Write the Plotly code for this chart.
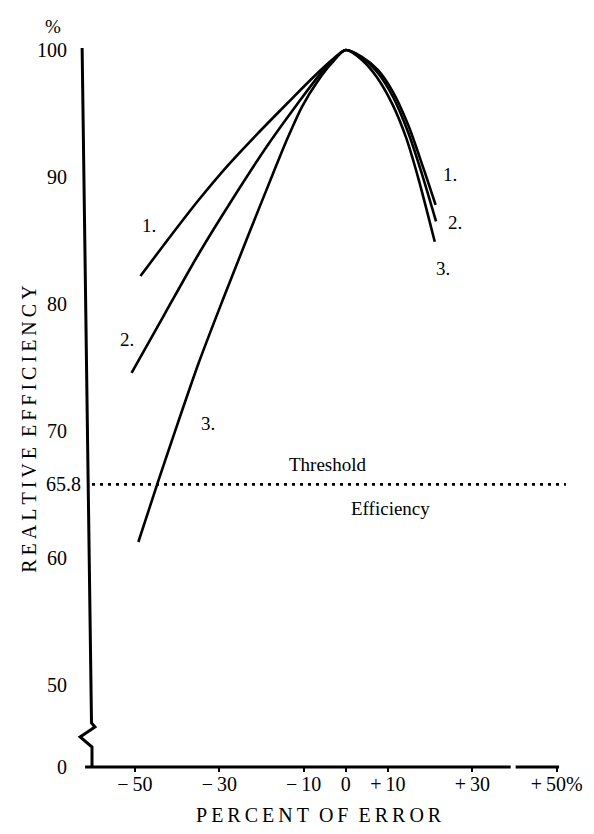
import plotly.graph_objects as go

# ---------------- data ----------------
CURVE1_X = [-48.7, -41.9, -34.9, -27.9, -20.8, -13.8, -7.9, -3.3, 0, 3.9, 7.6, 11.2, 14.8, 18.4, 21.3]
CURVE1_Y = [82.2, 85.2, 88.19, 90.94, 93.46, 95.83, 97.8, 99.21, 100, 99.45, 98.43, 96.69, 94.09, 90.7, 87.8]

CURVE2_X = [-50.8, -43.1, -34.9, -26.7, -18.5, -11.5, -6.3, -2.6, 0, 3.9, 7.6, 11.2, 14.8, 17.9, 21.4]
CURVE2_Y = [74.57, 79.13, 83.94, 88.35, 92.52, 95.75, 98.03, 99.37, 100, 99.37, 98.19, 96.3, 93.5, 90.4, 86.5]

CURVE3_X = [-49.2, -44.7, -41.2, -34.9, -29.0, -23.2, -17.3, -13.8, -10.3, -6.8, -3.3, 0,
            3.9, 7.5, 11.1, 14.3, 17.2, 21.1]
CURVE3_Y = [61.26, 65.83, 69.29, 75.35, 80.47, 85.35, 90.24, 93.07, 95.59, 97.48, 98.98, 100,
            99.2, 97.8, 95.7, 93.1, 89.9, 84.9]

THRESHOLD = 65.8
THRESHOLD_X = [-60.19, 52.2]

X_TICKS = [-50, -30, -10, 0, 10, 30, 50]
X_TICK_TEXT = ["\u2212\u200950", "\u2212\u200930", "\u2212\u200910", "0", "+\u200910", "+\u200930", "+\u200950%"]
Y_BREAK_ZERO = 43.54          # where the "0" of the broken axis sits
Y_TICKS = [Y_BREAK_ZERO, 50, 60, 70, 80, 90, 100]
Y_TICK_TEXT = ["0", "50", "60", "70", "80", "90", "100"]

FONT = "Liberation Serif"

# ---------------- layout geometry ----------------
# the page has an 8px body margin, so the figure is 16px smaller than the window
W, H = 586, 826
L, R, T, B = 84, 22, 40, 67
PW, PH = W - L - R, H - T - B
PAGE_L, PAGE_BOTTOM = 92, 767   # plot-area left / bottom in window pixels


def px(xp):
    return (xp - PAGE_L) / PW


def py(yp):
    return (PAGE_BOTTOM - yp) / PH


fig = go.Figure()

line_style = dict(color="black", width=2.6, shape="spline", smoothing=0.8)
for xs, ys in [(CURVE1_X, CURVE1_Y), (CURVE2_X, CURVE2_Y), (CURVE3_X, CURVE3_Y)]:
    fig.add_trace(go.Scatter(x=xs, y=ys, mode="lines", line=line_style,
                             hoverinfo="skip", showlegend=False))

fig.add_trace(go.Scatter(x=THRESHOLD_X, y=[THRESHOLD, THRESHOLD], mode="lines",
                         line=dict(color="black", width=2.6, dash="3px,5px"),
                         hoverinfo="skip", showlegend=False))

# axis lines drawn as shapes (hand-drawn look, with axis break)
ypath = (f"M {px(82)},{py(48)} L {px(91.5)},{py(723)} L {px(95)},{py(727)} "
         f"L {px(80)},{py(737)} L {px(92)},{py(747)} L {px(92)},{py(767)}")
shapes = [
    dict(type="path", xref="paper", yref="paper", path=ypath,
         line=dict(color="black", width=3)),
    dict(type="line", xref="paper", yref="paper", x0=px(85), x1=px(516), y0=py(767), y1=py(767),
         line=dict(color="black", width=3)),
    dict(type="line", xref="paper", yref="paper", x0=px(521), x1=px(565), y0=py(767), y1=py(767),
         line=dict(color="black", width=3)),
]

annotations = []


def txt(x, y, text, size=19, xref="x", yref="y", xanchor="center", **kw):
    annotations.append(dict(x=x, y=y, xref=xref, yref=yref, text=text, showarrow=False,
                            xanchor=xanchor, yanchor="middle",
                            font=dict(family=FONT, size=size, color="black"), **kw))


def spaced(s):
    return "\u2009".join(s)


# curve labels
txt(-46.6, 86.2, "1.")
txt(-51.8, 77.2, "2.")
txt(-32.6, 70.6, "3.")
txt(24.6, 90.2, "1.")
txt(26.0, 86.4, "2.")
txt(23.0, 82.8, "3.")
txt(-4.2, 67.4, "Threshold")
txt(10.5, 63.9, "Efficiency")
# threshold value on the axis
txt(px(83), THRESHOLD, "65.8", size=20, xref="paper", xanchor="right")
# unit and axis titles
txt(px(53), py(27), "%", size=19, xref="paper", yref="paper")
txt(px(28), py(429), spaced("REALTIVE") + "\u00a0\u00a0" + spaced("EFFICIENCY"),
    size=20, xref="paper", yref="paper", textangle=-90)
txt(px(322), py(815), spaced("PERCENT") + "\u00a0\u00a0" + spaced("OF") + "\u00a0\u00a0" + spaced("ERROR"),
    size=20, xref="paper", yref="paper")

fig.update_layout(
    width=W, height=H,
    margin=dict(l=L, r=R, t=T, b=B, pad=0),
    paper_bgcolor="white", plot_bgcolor="white",
    font=dict(family=FONT, color="black"),
    shapes=shapes, annotations=annotations,
    xaxis=dict(range=[-60.19, 52.22], showgrid=False, zeroline=False, showline=False,
               tickmode="array", tickvals=X_TICKS, ticktext=X_TICK_TEXT,
               ticks="outside", ticklen=4, tickwidth=2, tickcolor="black",
               ticklabelstandoff=-5,
               tickfont=dict(family=FONT, size=20, color="black")),
    yaxis=dict(range=[Y_BREAK_ZERO, 100.16], showgrid=False, zeroline=False, showline=False,
               tickmode="array", tickvals=Y_TICKS, ticktext=Y_TICK_TEXT,
               ticks="", ticklabelstandoff=24,
               tickfont=dict(family=FONT, size=20, color="black")),
)

fig.write_html("out.html")
